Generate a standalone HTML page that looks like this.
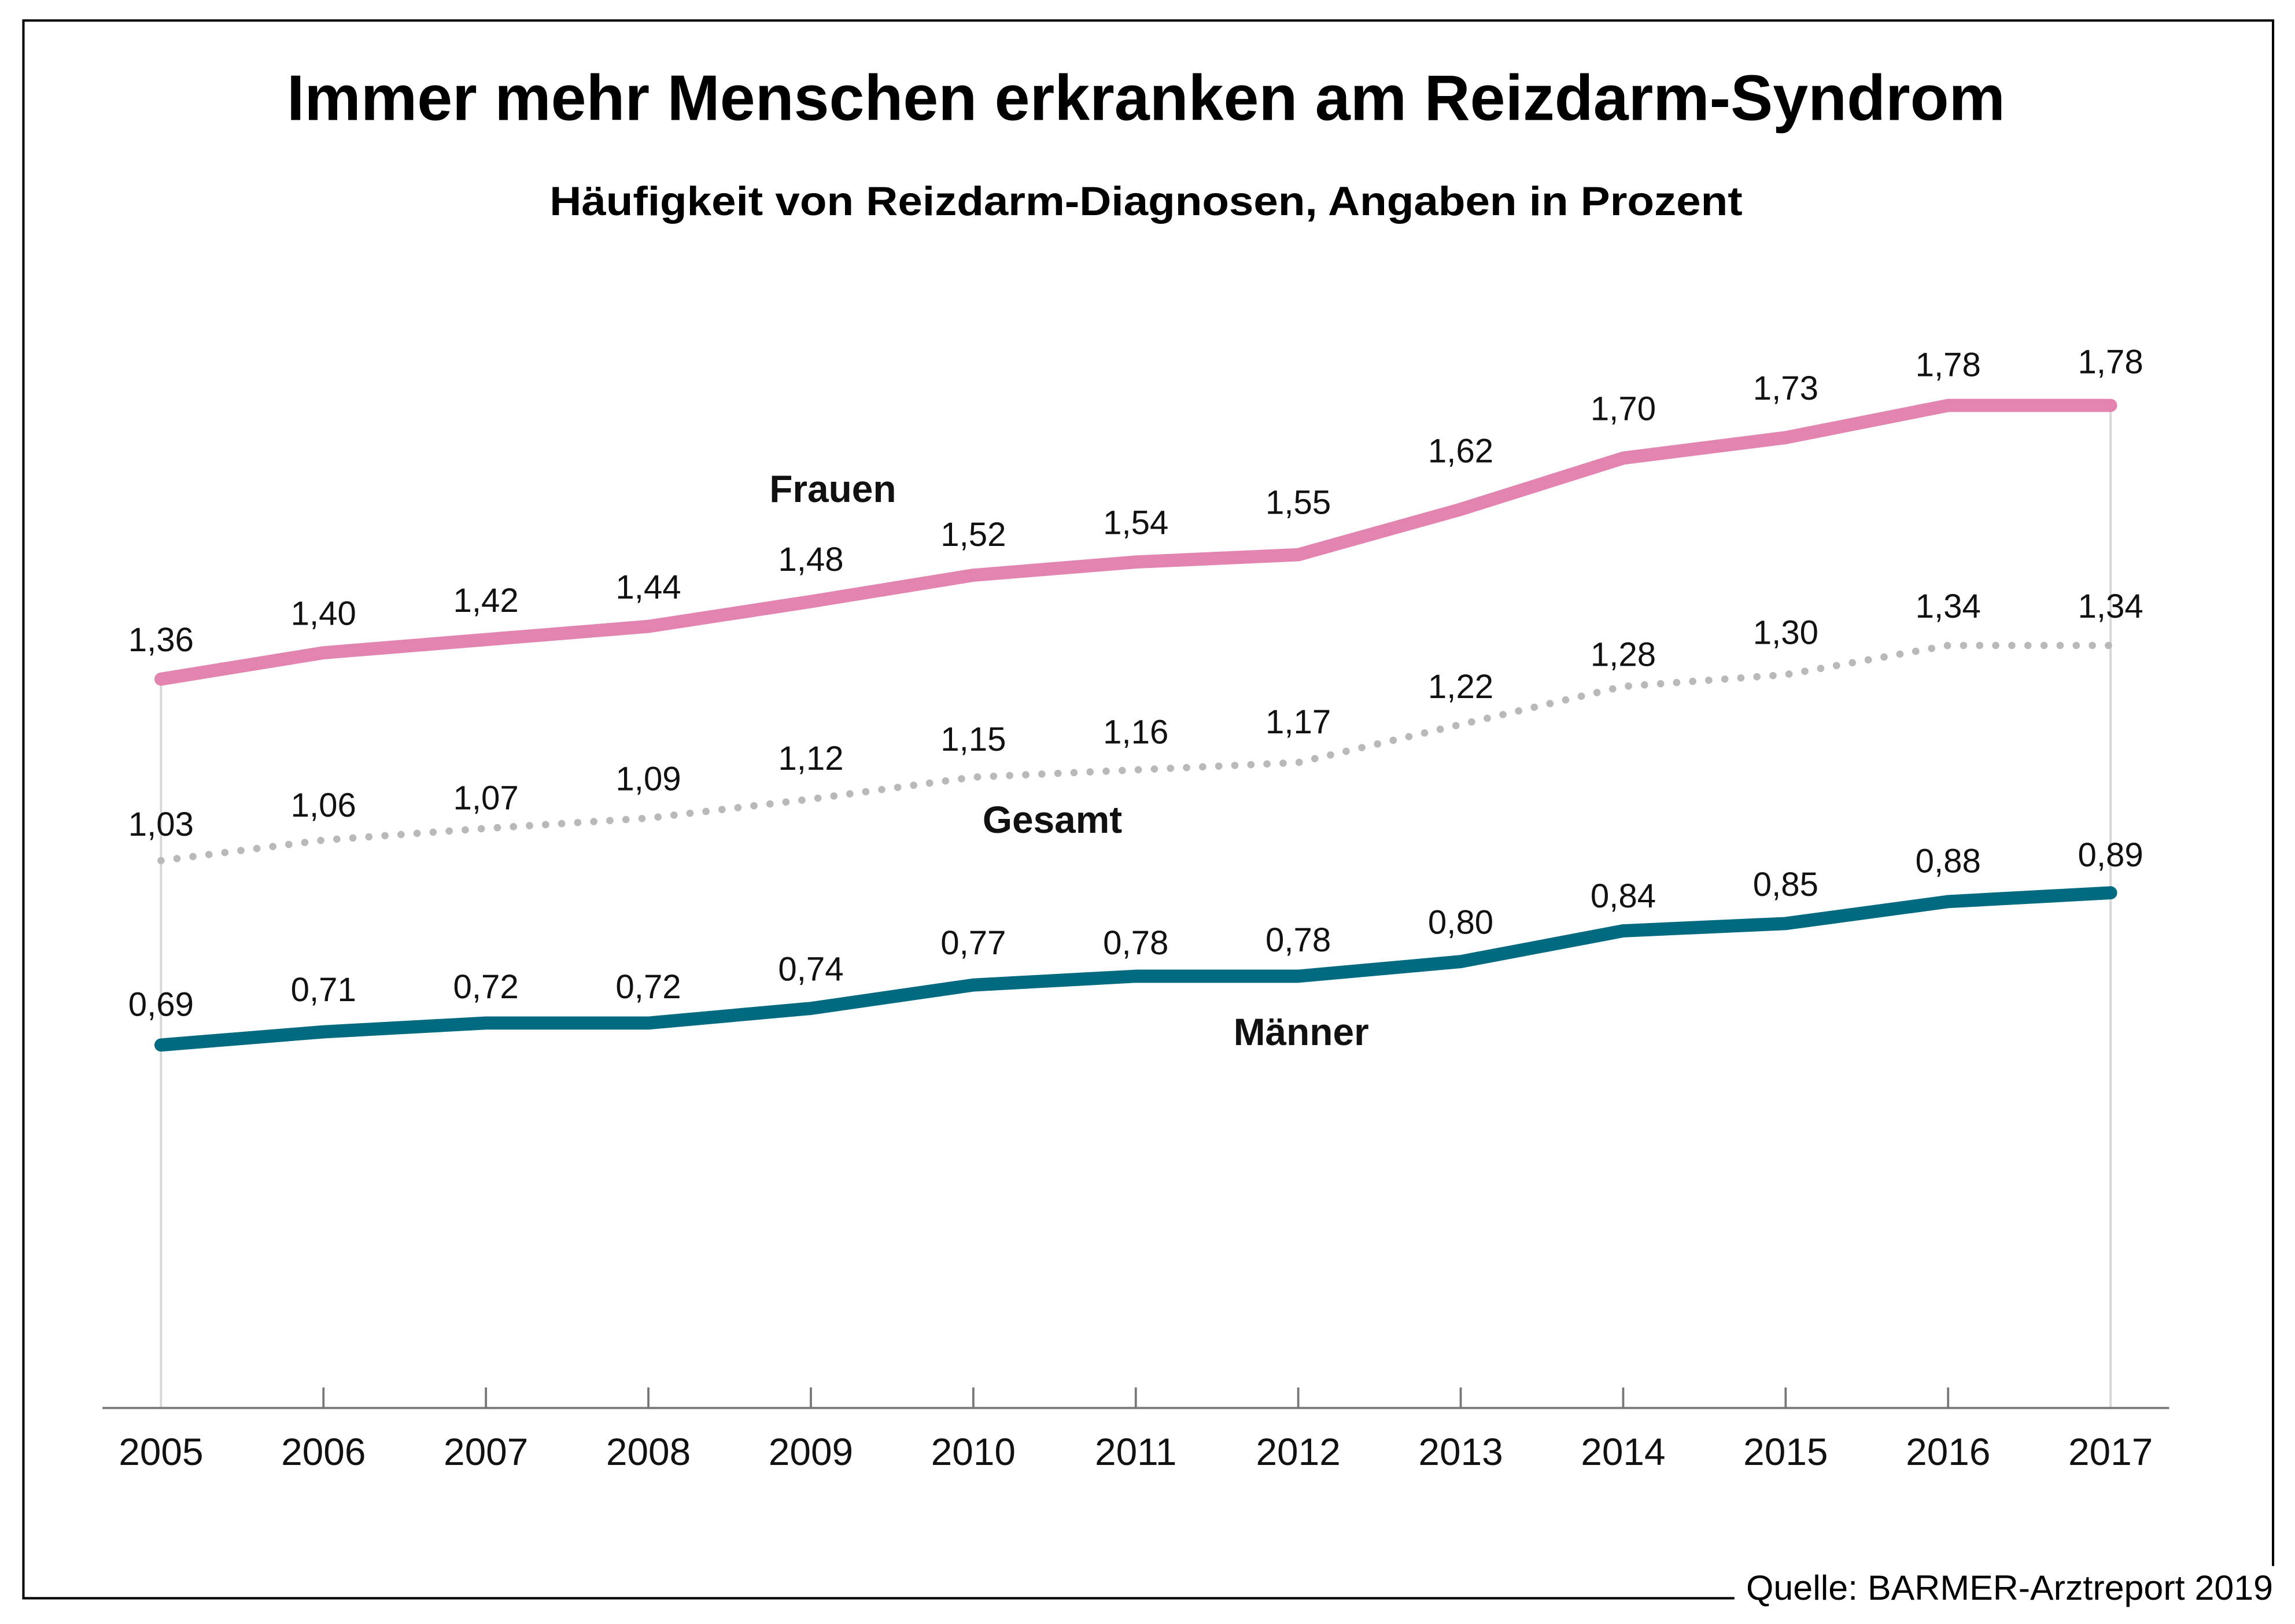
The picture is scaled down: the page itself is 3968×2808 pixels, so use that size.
<!DOCTYPE html>
<html><head><meta charset="utf-8"><style>html,body{margin:0;padding:0;background:#fff}svg{display:block}</style></head>
<body>
<svg xmlns="http://www.w3.org/2000/svg" width="3968" height="2808" viewBox="0 0 1568 1109.6" font-family="'Liberation Sans Narrow','Liberation Sans',sans-serif">
<rect width="1568" height="1110" fill="#fff"/>
<path d="M1185 1092 H16 V14 H1553 V1070" fill="none" stroke="#000" stroke-width="1.6"/>
<text x="783" y="82" font-size="44" font-weight="bold" text-anchor="middle" textLength="1174" lengthAdjust="spacingAndGlyphs">Immer mehr Menschen erkranken am Reizdarm-Syndrom</text>
<text x="783" y="147" font-size="28" font-weight="bold" text-anchor="middle" textLength="815" lengthAdjust="spacingAndGlyphs">Häufigkeit von Reizdarm-Diagnosen, Angaben in Prozent</text>
<text x="1553" y="1093" font-size="24" text-anchor="end" textLength="360" lengthAdjust="spacingAndGlyphs">Quelle: BARMER-Arztreport 2019</text>
<g stroke="#d6d6d6" stroke-width="1.5">
<line x1="110" y1="464" x2="110" y2="962"/><line x1="1442" y1="277" x2="1442" y2="962"/>
</g>
<g stroke="#777" stroke-width="1.5">
<line x1="70" y1="962" x2="1482" y2="962"/>
<line x1="221" y1="948" x2="221" y2="962"/><line x1="332" y1="948" x2="332" y2="962"/><line x1="443" y1="948" x2="443" y2="962"/><line x1="554" y1="948" x2="554" y2="962"/><line x1="665" y1="948" x2="665" y2="962"/><line x1="776" y1="948" x2="776" y2="962"/><line x1="887" y1="948" x2="887" y2="962"/><line x1="998" y1="948" x2="998" y2="962"/><line x1="1109" y1="948" x2="1109" y2="962"/><line x1="1220" y1="948" x2="1220" y2="962"/><line x1="1331" y1="948" x2="1331" y2="962"/>
</g>
<g font-size="26" text-anchor="middle" fill="#111">
<text x="110" y="1001">2005</text><text x="221" y="1001">2006</text><text x="332" y="1001">2007</text><text x="443" y="1001">2008</text><text x="554" y="1001">2009</text><text x="665" y="1001">2010</text><text x="776" y="1001">2011</text><text x="887" y="1001">2012</text><text x="998" y="1001">2013</text><text x="1109" y="1001">2014</text><text x="1220" y="1001">2015</text><text x="1331" y="1001">2016</text><text x="1442" y="1001">2017</text>
</g>
<polyline fill="none" stroke="#e383b0" stroke-width="9" stroke-linecap="round" stroke-linejoin="round" points="110,464 221,446 332,437 443,428 554,411 665,393 776,384 887,379 998,348 1109,313 1220,299 1331,277 1442,277"/>
<polyline fill="none" stroke="#b9b9b9" stroke-width="5" stroke-linecap="round" stroke-dasharray="0 11" points="110,588 221,574 332,566 443,559 554,546 665,531 776,526 887,521 998,495 1109,469 1220,461 1331,441 1442,441"/>
<polyline fill="none" stroke="#006a80" stroke-width="9" stroke-linecap="round" stroke-linejoin="round" points="110,714 221,705 332,699 443,699 554,689 665,673 776,667 887,667 998,657 1109,636 1220,631 1331,616 1442,610"/>
<g font-size="23" text-anchor="middle" fill="#111">
<text x="110" y="445">1,36</text><text x="221" y="427">1,40</text><text x="332" y="418">1,42</text><text x="443" y="409">1,44</text><text x="554" y="390">1,48</text><text x="665" y="373">1,52</text><text x="776" y="365">1,54</text><text x="887" y="351">1,55</text><text x="998" y="316">1,62</text><text x="1109" y="287">1,70</text><text x="1220" y="273">1,73</text><text x="1331" y="257">1,78</text><text x="1442" y="255">1,78</text>
<text x="110" y="571">1,03</text><text x="221" y="558">1,06</text><text x="332" y="553">1,07</text><text x="443" y="540">1,09</text><text x="554" y="526">1,12</text><text x="665" y="513">1,15</text><text x="776" y="508">1,16</text><text x="887" y="501">1,17</text><text x="998" y="477">1,22</text><text x="1109" y="455">1,28</text><text x="1220" y="440">1,30</text><text x="1331" y="422">1,34</text><text x="1442" y="422">1,34</text>
<text x="110" y="694">0,69</text><text x="221" y="684">0,71</text><text x="332" y="682">0,72</text><text x="443" y="682">0,72</text><text x="554" y="670">0,74</text><text x="665" y="652">0,77</text><text x="776" y="652">0,78</text><text x="887" y="650">0,78</text><text x="998" y="638">0,80</text><text x="1109" y="620">0,84</text><text x="1220" y="612">0,85</text><text x="1331" y="596">0,88</text><text x="1442" y="592">0,89</text>
</g>
<g font-size="26" font-weight="bold" text-anchor="middle" fill="#111">
<text x="569" y="343">Frauen</text><text x="719" y="569">Gesamt</text><text x="889" y="714">Männer</text>
</g>
</svg>
</body></html>
